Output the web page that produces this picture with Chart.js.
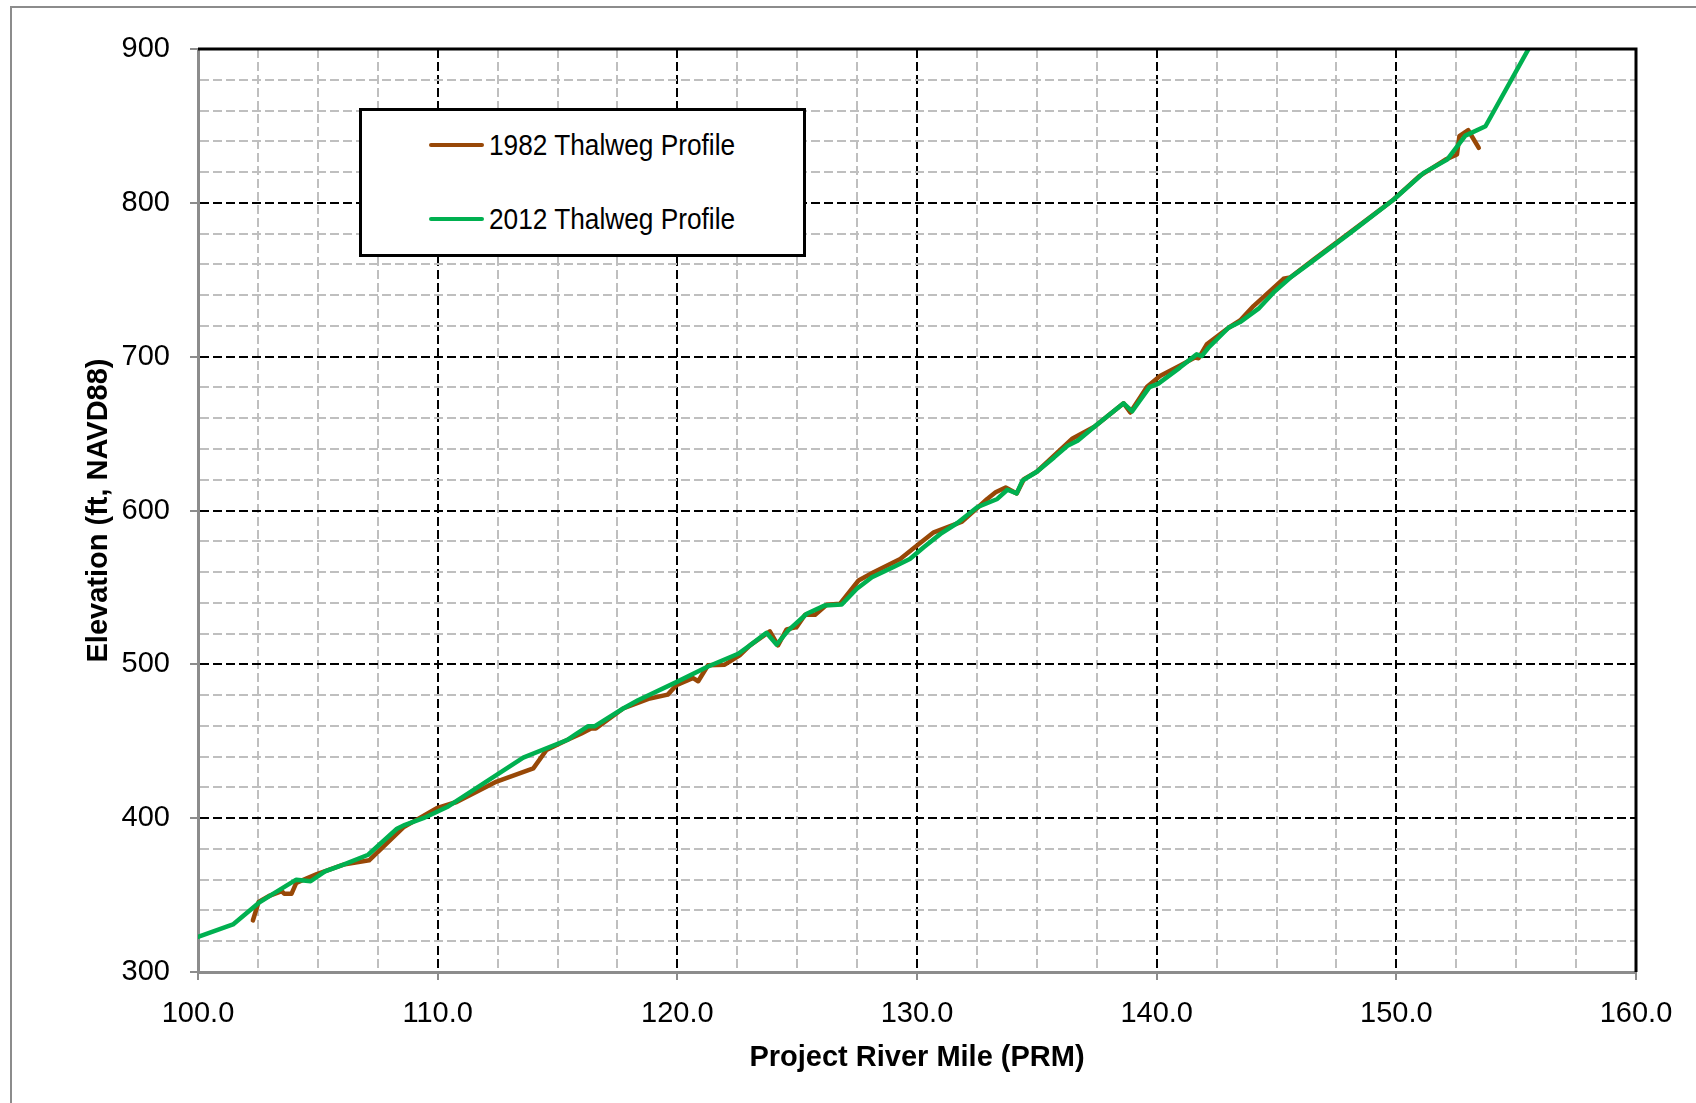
<!DOCTYPE html>
<html>
<head>
<meta charset="utf-8">
<script src="https://cdn.jsdelivr.net/npm/chart.js@4.4.1/dist/chart.umd.min.js"></script>
<style>
  html, body { margin: 0; padding: 0; background: #fff; overflow: hidden; }
  #wrap { position: relative; width: 1696px; height: 1103px; }
  #frame {
    position: absolute; left: 10px; top: 6px; width: 1720px; height: 1120px;
    border-left: 2px solid #8c8c8c; border-top: 2px solid #8c8c8c;
  }
  #chart { position: absolute; left: 0; top: 0; }
  #legend {
    position: absolute; left: 359px; top: 108px; width: 447px; height: 149px;
    box-sizing: border-box; border: 3px solid #000; background: #fff;
    font-family: 'Liberation Sans Narrow', 'Arial Narrow', 'Liberation Sans', sans-serif;
    font-size: 30px; color: #000;
  }
  #legend .item { position: absolute; left: 67px; height: 36px; display: flex; align-items: center; white-space: nowrap; }
  #legend .swatch { width: 55px; height: 4px; margin-right: 5px; border-radius: 2px; }
  #legend .txt { display: inline-block; transform: scaleX(0.875); transform-origin: left center; }
</style>
</head>
<body>
<div id="wrap">
  <div id="frame"></div>
  <canvas id="chart" width="1696" height="1103"></canvas>
  <div id="legend"></div>
</div>
<script>
  // 1982 thalweg survey (PRM, elevation ft NAVD88)
  const mile1982 = [102.29, 102.53, 103.0, 103.5, 103.6, 103.9, 104.1, 104.96, 106.07, 107.14,
    108.57, 109.96, 110.79, 112.46, 113.99, 114.54, 115.4, 116.0, 116.4, 116.6,
    117.74, 118.85, 119.6, 119.96, 120.66, 120.87, 121.28, 121.98, 122.6, 123.03,
    123.86, 124.2, 124.56, 124.98, 125.33, 125.75, 126.23, 126.79, 127.56, 128.19,
    129.3, 130.0, 130.7, 131.88, 132.93, 133.28, 133.7, 134.16, 134.46, 135.0,
    136.49, 137.4, 138.62, 138.9, 139.6, 140.14, 141.0, 141.6, 141.75, 142.09,
    143.0, 143.48, 144.04, 145.29, 145.57, 146.55, 148.0, 149.89, 150.96, 152.05,
    152.53, 152.63, 153.0, 153.44];
  const elev1982 = [333.5, 345.6, 349.7, 352.5, 350.8, 350.8, 357.9, 363.7, 369.8, 372.6,
    394.0, 406.5, 410.5, 423.8, 432.4, 444.3, 450.8, 455.1, 458.3, 458.3,
    471.3, 477.8, 480.3, 486.4, 491.1, 489.0, 499.4, 499.8, 505.8, 512.3,
    521.4, 512.3, 522.7, 524.2, 532.2, 532.2, 538.7, 539.4, 554.5, 559.9,
    568.5, 577.2, 585.8, 592.8, 607.5, 611.8, 615.0, 611.1, 620.4, 625.2,
    646.8, 654.4, 669.7, 663.7, 680.5, 687.4, 694.5, 699.4, 699.0, 708.0,
    718.8, 723.5, 732.9, 750.6, 751.5, 763.2, 780.0, 802.2, 817.3, 828.1,
    831.4, 843.3, 847.2, 835.7];

  // 2012 thalweg survey
  const mile2012 = [100.0, 101.46, 102.53, 103.08, 104.1, 104.7, 105.3, 106.07, 107.1, 108.3,
    108.64, 109.4, 110.44, 113.57, 115.4, 115.8, 116.28, 116.56, 117.74, 118.36,
    119.98, 121.28, 122.54, 123.03, 123.72, 124.14, 124.63, 125.4, 126.16, 126.86,
    127.49, 128.12, 129.0, 129.7, 130.28, 130.98, 131.67, 132.51, 133.35, 133.77,
    134.16, 134.4, 135.0, 135.72, 136.28, 136.7, 137.4, 138.62, 138.98, 139.7,
    140.07, 140.97, 141.67, 141.88, 142.16, 143.0, 143.48, 144.25, 144.87, 145.57,
    146.41, 148.08, 149.89, 151.14, 152.12, 152.88, 153.72, 155.55];
  const elev2012 = [322.9, 330.9, 344.9, 350.3, 360.0, 359.0, 365.4, 369.8, 376.2, 393.1,
    395.7, 400.0, 407.6, 439.3, 450.8, 455.0, 459.8, 459.8, 471.3, 476.7,
    488.6, 498.6, 506.9, 512.3, 520.5, 512.8, 522.1, 532.9, 538.3, 538.9,
    549.1, 556.6, 563.1, 568.5, 576.1, 584.8, 591.7, 602.1, 607.5, 613.5,
    611.1, 619.4, 625.2, 634.5, 642.1, 645.3, 654.5, 669.7, 664.5, 680.2,
    682.5, 692.9, 701.5, 700.4, 705.8, 718.8, 722.5, 731.2, 741.6, 751.3,
    761.0, 780.5, 802.2, 819.5, 828.1, 843.7, 849.8, 901.0];

  const seriesLabels = ['1982 Thalweg Profile', '2012 Thalweg Profile'];
  const seriesColors = ['#984807', '#00b050'];

  const xMin = 100, xMax = 160, xMajor = 10, xMinor = 2.5;
  const yMin = 300, yMax = 900, yMajor = 100, yMinor = 20;

  const fontFamily = "'Liberation Sans Narrow', 'Arial Narrow', 'Liberation Sans', sans-serif";

  const toPoints = (xs, ys) => xs.map((x, i) => ({ x: x, y: ys[i] }));

  const isMajor = (v, step) => Math.abs(v / step - Math.round(v / step)) < 1e-6;

  // thick black top + right edges of the plot box
  const frameBorder = {
    id: 'frameBorder',
    afterDatasetsDraw(chart) {
      const { ctx, chartArea: a } = chart;
      ctx.save();
      ctx.strokeStyle = '#000';
      ctx.lineWidth = 3;
      ctx.beginPath();
      ctx.moveTo(a.left, a.top);
      ctx.lineTo(a.right, a.top);
      ctx.lineTo(a.right, a.bottom);
      ctx.stroke();
      ctx.restore();
    }
  };

  const ctx = document.getElementById('chart').getContext('2d');
  const chart = new Chart(ctx, {
    type: 'line',
    data: {
      datasets: [
        {
          label: seriesLabels[0],
          data: toPoints(mile1982, elev1982),
          borderColor: seriesColors[0],
          borderWidth: 4.5,
          pointRadius: 0,
          tension: 0,
          order: 1,
          borderCapStyle: 'round',
          borderJoinStyle: 'round'
        },
        {
          label: seriesLabels[1],
          data: toPoints(mile2012, elev2012),
          borderColor: seriesColors[1],
          borderWidth: 4.5,
          pointRadius: 0,
          tension: 0,
          order: 0,
          borderCapStyle: 'round',
          borderJoinStyle: 'round'
        }
      ]
    },
    options: {
      responsive: false,
      animation: false,
      events: [],
      layout: { padding: { left: 0, top: 49, right: 60, bottom: 0 } },
      plugins: {
        legend: { display: false },
        tooltip: { enabled: false }
      },
      scales: {
        x: {
          type: 'linear',
          min: xMin,
          max: xMax,
          afterFit(scale) { scale.height = 131; },
          ticks: {
            stepSize: xMinor,
            autoSkip: false,
            maxRotation: 0,
            padding: 17,
            color: '#000',
            font: { family: fontFamily, size: 29 },
            callback: (v) => isMajor(v, xMajor) ? Number(v).toFixed(1) : ''
          },
          grid: {
            color: (c) => isMajor(c.tick.value, xMajor) ? '#000' : '#bfbfbf',
            lineWidth: 2,
            tickLength: 8,
            tickWidth: 2,
            tickColor: (c) => isMajor(c.tick.value, xMajor) ? '#8c8c8c' : 'rgba(0,0,0,0)'
          },
          border: { color: '#8c8c8c', width: 3, dash: [9, 4] },
          title: {
            display: true,
            text: 'Project River Mile (PRM)',
            color: '#000',
            font: { family: fontFamily, size: 29, weight: 'bold' },
            padding: { top: 0, bottom: 28 }
          }
        },
        y: {
          type: 'linear',
          min: yMin,
          max: yMax,
          afterFit(scale) { scale.width = 198; },
          ticks: {
            stepSize: yMinor,
            autoSkip: false,
            padding: 20,
            color: '#000',
            font: { family: fontFamily, size: 29 },
            callback: (v) => isMajor(v, yMajor) ? String(v) : ''
          },
          grid: {
            color: (c) => isMajor(c.tick.value, yMajor) ? '#000' : '#bfbfbf',
            lineWidth: 2,
            tickLength: 8,
            tickWidth: 2,
            tickColor: (c) => isMajor(c.tick.value, yMajor) ? '#8c8c8c' : 'rgba(0,0,0,0)'
          },
          border: { color: '#8c8c8c', width: 3, dash: [9, 4] },
          title: {
            display: true,
            text: 'Elevation (ft, NAVD88)',
            color: '#000',
            font: { family: fontFamily, size: 29, weight: 'bold' },
            padding: { top: 82, bottom: 0 }
          }
        }
      }
    },
    plugins: [frameBorder]
  });

  // legend box drawn over the plot, built from the chart's datasets
  const legendEl = document.getElementById('legend');
  chart.data.datasets.forEach((ds, i) => {
    const item = document.createElement('div');
    item.className = 'item';
    item.style.top = (16 + i * 74) + 'px';
    const sw = document.createElement('span');
    sw.className = 'swatch';
    sw.style.background = ds.borderColor;
    const txt = document.createElement('span');
    txt.className = 'txt';
    txt.textContent = ds.label;
    item.appendChild(sw);
    item.appendChild(txt);
    legendEl.appendChild(item);
  });
</script>
</body>
</html>
